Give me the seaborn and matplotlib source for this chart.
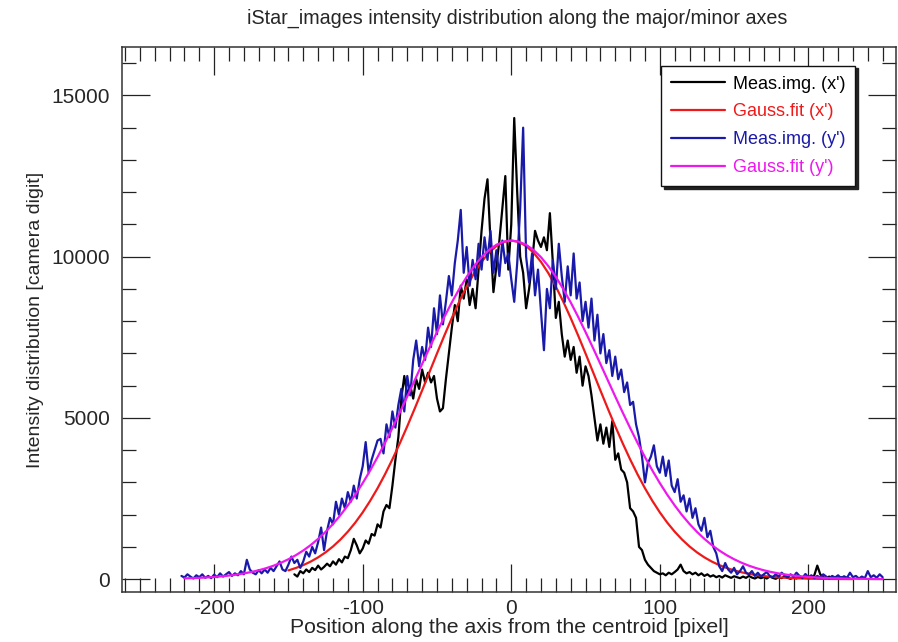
import numpy as np
import pandas as pd
import matplotlib
matplotlib.use("Agg")
import matplotlib.pyplot as plt
import seaborn as sns
from matplotlib.ticker import MultipleLocator
from matplotlib.lines import Line2D

# ---------------- data ----------------
title = "iStar_images intensity distribution along the major/minor axes"
xlabel = "Position along the axis from the centroid [pixel]"
ylabel = "Intensity distribution [camera digit]"
legend_labels = ["Meas.img. (x')", "Gauss.fit (x')", "Meas.img. (y')", "Gauss.fit (y')"]

# measured profile along x' (every 2 pixels starting at -146)
meas_x_start = -146
meas_x_vals = [
    150, 80, 250, 180, 300, 220, 350, 280, 420, 300, 380, 480, 400, 550, 450, 620, 520, 700, 650, 900,
    1250, 1050, 800, 950, 1200, 1100, 1400, 1350, 1700, 1600, 2100, 2300, 2200, 2900, 3700, 4400, 5600, 6300, 5700, 6000,
    5600, 6200, 5900, 6500, 6100, 6400, 6100, 6300, 5600, 5200, 5300, 6200, 7000, 7800, 8500, 8000, 9100, 8700, 9300, 8500,
    9000, 8400, 9600, 10800, 11800, 12400, 10500, 8900, 9700, 10500, 11500, 12500, 9600, 11000, 14300, 12000, 10000, 9500, 8400, 9000,
    9800, 10800, 10500, 10300, 10600, 10200, 11350, 9800, 8100, 8600, 7600, 6900, 7400, 6800, 7200, 6400, 6900, 6000, 6600, 6300,
    5700, 5000, 4300, 4800, 4200, 4700, 4100, 4900, 3700, 3900, 3400, 3300, 3000, 2200, 2100, 1900, 1000, 900, 600, 450,
    350, 250, 200, 150, 180, 120, 200, 150, 220, 300, 450, 250, 180, 220, 150, 200, 120, 180, 100, 150,
    80, 120, 60, 100, 50, 120, 80, 40, 90, 60, 30, 80, 40, 100, 50, 20, 70, 30, 60, 20,
    80, 40, 10, 60, 30, 90, 40, 10, 50, 20, 80, 30, 60, 20, 40, 120, 420, 150, 60, 30,
    80, 20, 50, 10, 60, 30, 40, 20,
]

# Gaussian fit along x' (every 5 pixels starting at -150)
fit_x_start = -150
fit_x_vals = [
    272, 346, 436, 545, 676, 831, 1014, 1227, 1473, 1753, 2071, 2427, 2819, 3250, 3716, 4214, 4740, 5289, 5853, 6426,
    6998, 7558, 8098, 8607, 9073, 9487, 9840, 10123, 10331, 10457, 10500,
    10457, 10331, 10123, 9840, 9487, 9073, 8607, 8098, 7558, 6998, 6426, 5853, 5289, 4740, 4214, 3716, 3250, 2819, 2427,
    2071, 1753, 1473, 1227, 1014, 831, 676, 545, 436, 346, 272, 213, 165, 126, 96, 73, 55, 41, 30, 22,
    16, 12, 8, 6, 4, 3, 2,
]

# measured profile along y' (every 2 pixels starting at -222)
meas_y_start = -222
meas_y_vals = [
    100, 50, 150, 80, 20, 120, 60, 150, 40, 100, 30, 140, 60, 180, 80, 150, 220, 100, 180, 120,
    250, 150, 600, 300, 200, 150, 280, 180, 300, 200, 350, 250, 400, 550, 300, 250, 450, 700, 500, 600,
    350, 550, 850, 700, 1000, 800, 1150, 1600, 900, 1500, 1900, 1700, 2400, 2000, 2500, 2200, 2700, 2400, 2900, 2500,
    3100, 3500, 4250, 3300, 3700, 4000, 4300, 4350, 3900, 4800, 4400, 5200, 4700, 5400, 5900, 5200, 6300, 5700, 6800, 7400,
    6600, 7200, 6800, 7800, 7200, 8400, 7600, 8800, 7900, 8600, 9400, 8800, 9800, 10500, 11450, 9500, 10300, 9100, 9900, 9300,
    10400, 9600, 10600, 9900, 10800, 9500, 10200, 9400, 10500, 9800, 10100, 9300, 8600, 9800, 11500, 14000, 10000, 9200, 10100, 8800,
    9600, 8300, 7100, 9000, 8400, 9900, 9000, 10400, 9400, 8600, 9700, 8800, 10100, 8700, 9200, 8000, 8600, 7800, 8700, 7400,
    8200, 7000, 7600, 6700, 7100, 6300, 6900, 6200, 6500, 5800, 6100, 5400, 5500, 4800, 4400, 3800, 3000, 3600, 3800, 4150,
    3500, 3300, 3800, 3200, 3680, 2900, 2700, 3100, 2400, 2600, 2100, 2500, 1900, 2200, 1700, 1500, 1900, 1300, 1500, 1000,
    800, 400, 250, 500, 300, 200, 350, 150, 250, 400, 200, 150, 250, 100, 200, 80, 150, 220, 100, 60,
    150, 80, 200, 120, 50, 150, 80, 200, 100, 40, 160, 60, 120, 30, 100, 50, 150, 80, 20, 100,
    50, 120, 30, 90, 40, 200, 60, 100, 20, 80, 30, 250, 60, 120, 40, 150, 60,
]

# Gaussian fit along y' (every 5 pixels starting at -220)
fit_y_start = -220
fit_y_vals = [
    24, 31, 41, 53, 68, 87, 111, 141, 177, 222, 275, 340, 417, 509, 617, 743, 889, 1057, 1249, 1467,
    1711, 1984, 2287, 2618, 2979, 3368, 3785, 4226, 4689, 5169, 5664, 6167, 6672, 7173, 7663, 8136, 8583, 8998, 9375, 9705,
    9984, 10207, 10369, 10467, 10500,
    10467, 10369, 10207, 9984, 9705, 9375, 8998, 8583, 8136, 7663, 7173, 6672, 6167, 5664, 5169, 4689, 4226, 3785, 3368, 2979,
    2618, 2287, 1984, 1711, 1467, 1249, 1057, 889, 743, 617, 509, 417, 340, 275, 222, 177, 141, 111, 87, 68,
    53, 41, 31, 24, 18, 13, 10, 8, 6, 4,
]

colors = ["#000000", "#ee1a1a", "#1a1aaa", "#ee18ee"]

# ---------------- build tables ----------------
series = [
    (meas_x_start, 2, meas_x_vals),
    (fit_x_start, 5, fit_x_vals),
    (meas_y_start, 2, meas_y_vals),
    (fit_y_start, 5, fit_y_vals),
]
frames = []
for (start, step, vals) in series:
    frames.append(pd.DataFrame({"x": start + step * np.arange(len(vals)), "y": vals}))

# ---------------- style ----------------
sns.set_style("white")
plt.rcParams["font.family"] = ["Liberation Sans", "DejaVu Sans"]
plt.rcParams["axes.unicode_minus"] = False

fig = plt.figure(figsize=(8.98, 6.42), dpi=100)
ax = fig.add_axes([0.1359, 0.0778, 0.8619, 0.8489])

for df, c in zip(frames, colors):
    sns.lineplot(data=df, x="x", y="y", ax=ax, color=c, lw=1.6, estimator=None, legend=False)

ax.set_xlim(-262, 259)
ax.set_ylim(-400, 16500)

ax.xaxis.set_major_locator(MultipleLocator(100))
ax.xaxis.set_minor_locator(MultipleLocator(10))
ax.yaxis.set_major_locator(MultipleLocator(5000))
ax.yaxis.set_minor_locator(MultipleLocator(1000))
ax.tick_params(which="both", direction="in", top=True, right=True, bottom=True, left=True,
               color="#222222", width=0.9)
ax.tick_params(which="major", length=20, labelsize=15)
ax.tick_params(axis="y", which="major", pad=9)
ax.tick_params(axis="x", which="major", pad=5)
ax.tick_params(which="minor", length=10)
for s in ax.spines.values():
    s.set_color("#333333")
    s.set_linewidth(1.1)

ax.set_xlabel(xlabel, fontsize=15.3, labelpad=0)
ax.set_ylabel(ylabel, fontsize=14, labelpad=5)
fig.text(0.576, 0.972, title, ha="center", va="center", fontsize=14.2)

handles = [Line2D([], [], color=c, lw=1.6) for c in colors]
leg = ax.legend(handles, legend_labels, loc="upper right", bbox_to_anchor=(0.947, 0.966),
                borderaxespad=0, fontsize=13, labelcolor=colors, frameon=True, fancybox=False,
                shadow={"color": "#222222", "alpha": 1.0}, handlelength=3.0, handletextpad=0.4,
                labelspacing=0.6, borderpad=0.55)
leg.get_frame().set_edgecolor("#111111")
leg.get_frame().set_linewidth(1.0)

fig.savefig("out.png", dpi=100)
